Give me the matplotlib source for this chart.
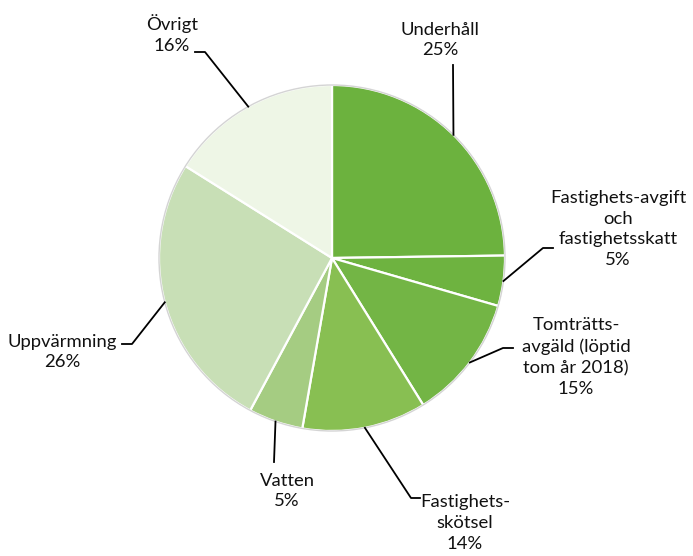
import matplotlib.pyplot as plt
import numpy as np

# slice shares (labels show the printed percentages)
categories = ["Underhåll", "Fastighets-avgift\noch\nfastighetsskatt",
              "Tomträtts-\navgäld (löptid\ntom år 2018)", "Fastighets-\nskötsel",
              "Vatten", "Uppvärmning", "Övrigt"]
shares = [24.8, 4.7, 11.7, 11.6, 5.1, 26.1, 16.1]
pct_labels = ["25%", "5%", "15%", "14%", "5%", "26%", "16%"]
colors = ["#6cb23e", "#6eb340", "#73b545", "#88bf52", "#a5cc82", "#c8dfb6", "#eef6e6"]

# layout in pixel units (y measured from top of image)
W, H = 693, 556
cx, cy, R = 332, 258, 173
text_pos = [(440, 40), (618, 229), (576, 357), (465, 523), (287, 491), (62, 352), (172, 34)]
knees = [[(453, 65)], [(543, 248), (553, 248)], [(503, 348), (513, 348)],
         [(411, 498), (420, 498)], [(274, 462)], [(132, 344), (122, 344)],
         [(205, 52), (195, 52)]]

plt.rcParams['font.family'] = ['Lato', 'DejaVu Sans']

fig = plt.figure(figsize=(W / 100, H / 100), dpi=100)
ax = fig.add_axes([0, 0, 1, 1])

wedges, _ = ax.pie(shares, colors=colors, startangle=90, counterclock=False,
                   center=(cx, H - cy), radius=R, frame=True,
                   wedgeprops=dict(edgecolor='white', linewidth=1.6))
ax.set_xlim(0, W)
ax.set_ylim(0, H)
ax.axis('off')
ax.add_patch(plt.Circle((cx, H - cy), R, fill=False, edgecolor='#d4d4d4', linewidth=1.0))

for w, cat, pct, tp, kn in zip(wedges, categories, pct_labels, text_pos, knees):
    ang = np.deg2rad((w.theta1 + w.theta2) / 2)
    ax0 = cx + R * np.cos(ang)
    ay0 = H - cy + R * np.sin(ang)
    xs = [ax0] + [k[0] for k in kn]
    ys = [ay0] + [H - k[1] for k in kn]
    ax.plot(xs, ys, color='black', linewidth=1.3)
    ax.text(tp[0], H - tp[1], cat + "\n" + pct, ha='center', va='center',
            multialignment='center', fontsize=13.3, linespacing=1.38, color='#111111')

fig.savefig("out.png", dpi=100)
